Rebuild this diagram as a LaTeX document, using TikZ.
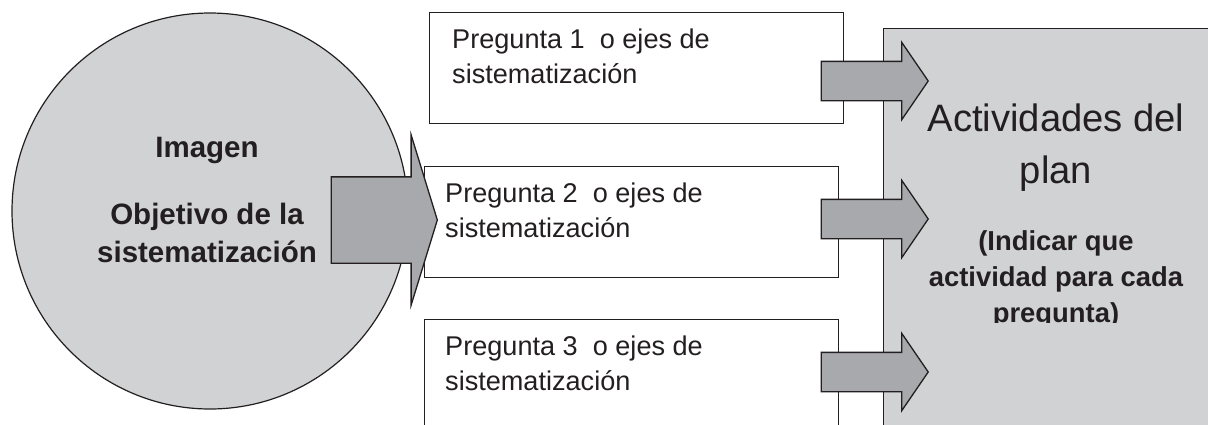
\documentclass[tikz,border=0pt]{standalone}
\usepackage{fontspec}
\setmainfont{Liberation Sans}
\usetikzlibrary{shapes.arrows}
\definecolor{lightgrey}{HTML}{D1D2D4}
\definecolor{midgrey}{HTML}{A7A9AC}
\definecolor{ink}{HTML}{231F20}

\begin{document}
\begin{tikzpicture}[
    x=1pt, y=-1pt,
    every node/.style={inner sep=0pt, text=ink},
    goal/.style={circle, draw=ink, line width=1.2pt, fill=lightgrey, minimum size=396pt},
    goaltext/.style={align=center, font=\bfseries\fontsize{29.5}{38}\selectfont},
    qbox/.style={rectangle, draw=ink, line width=1.3pt, fill=white, minimum width=414pt, minimum height=111pt},
    qtext/.style={align=left, font=\fontsize{27.1}{35}\selectfont},
    planbox/.style={rectangle, draw=ink, line width=1.3pt, fill=lightgrey, minimum width=360pt, minimum height=430pt},
    plantitle/.style={align=center, font=\fontsize{38.2}{52}\selectfont},
    plannote/.style={align=center, font=\bfseries\fontsize{27.4}{36}\selectfont},
    bigarr/.style={single arrow, draw=ink, line width=1.3pt, fill=midgrey,
        inner xsep=0pt, inner ysep=42.5pt,
        minimum width=169pt, minimum height=106pt,
        single arrow head extend=42pt, single arrow tip angle=145.8},
    smallarr/.style={single arrow, draw=ink, line width=1.3pt, fill=midgrey,
        inner xsep=0pt, inner ysep=19pt,
        minimum width=76pt, minimum height=107pt,
        single arrow head extend=19pt, single arrow tip angle=111.2},
]
    \path[use as bounding box, clip] (0,0) rectangle (1208,424);

    % objective
    \node[goal] (goal) at (210,211) {};
    \node[goaltext, anchor=north] (goallbl) at (207,137) {Imagen\\[29pt]Objetivo de la\\sistematización};

    % questions
    \node[qbox, anchor=north west] (q1) at (429,12) {};
    \node[qbox, anchor=north west] (q2) at (424,166) {};
    \node[qbox, anchor=north west] (q3) at (424,319) {};
    \node[qtext, anchor=north west] (q1lbl) at ([shift={(23,16.6)}]q1.north west) {Pregunta 1\ \ o ejes de\\sistematización};
    \node[qtext, anchor=north west] (q2lbl) at ([shift={(21,16.6)}]q2.north west) {Pregunta 2\ \ o ejes de\\sistematización};
    \node[qtext, anchor=north west] (q3lbl) at ([shift={(21,16.6)}]q3.north west) {Pregunta 3\ \ o ejes de\\sistematización};

    % plan
    \node[planbox, anchor=north west] (plan) at (883,28) {};
    \node[plantitle, anchor=north] (plantl) at (1056,103.6) {Actividades del\\plan};
    \begin{scope}
        \clip (883,0) rectangle (1208,322);
        \node[plannote, anchor=north] (plannt) at (1056,230) {(Indicar que\\actividad para cada\\pregunta)};
    \end{scope}

    % block arrows
    \node[bigarr, anchor=tip] (a0) at (438,220) {};
    \node[smallarr, anchor=tip] (a1) at (929,81) {};
    \node[smallarr, anchor=tip] (a2) at (929,219) {};
    \node[smallarr, anchor=tip] (a3) at (929,372) {};
\end{tikzpicture}
\end{document}
